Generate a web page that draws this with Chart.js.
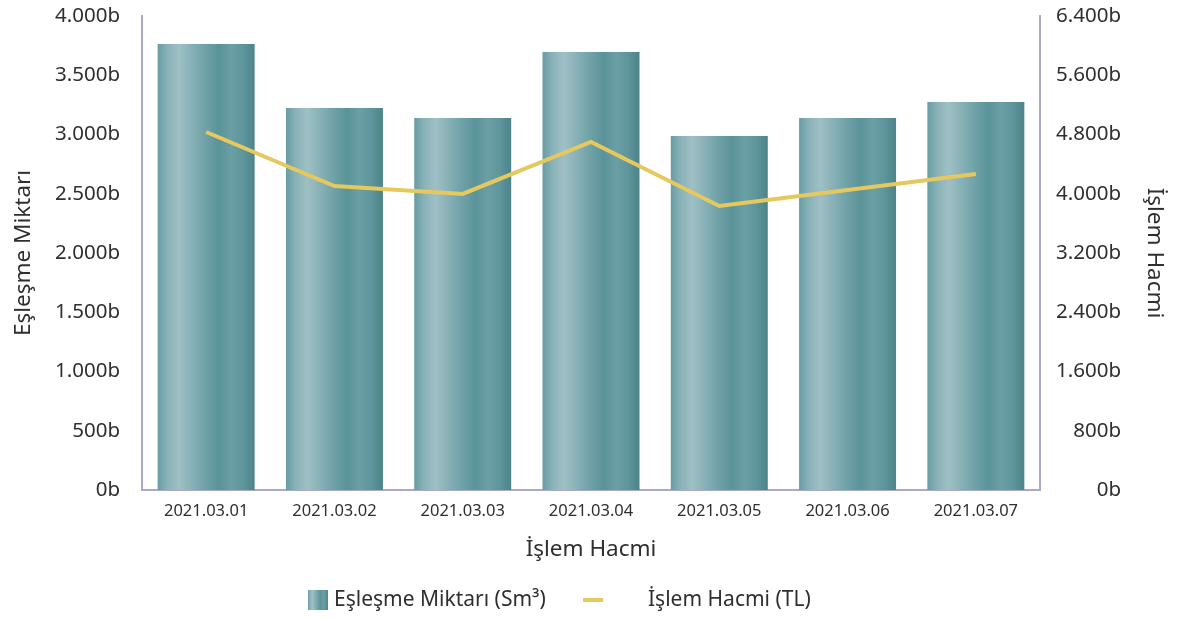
<!DOCTYPE html>
<html>
<head>
<meta charset="utf-8">
<script src="https://cdn.jsdelivr.net/npm/chart.js@4.4.1/dist/chart.umd.min.js"></script>
<style>
  html,body{margin:0;padding:0;background:#fff;}
  #wrap{width:1177px;height:618px;}
</style>
</head>
<body>
<div id="wrap"><canvas id="chartEslesme"></canvas></div>
<script>
var etiquetas = ['2021.03.01','2021.03.02','2021.03.03','2021.03.04','2021.03.05','2021.03.06','2021.03.07'];
var eslesmeMiktari = [3764, 3224, 3139, 3696, 2987, 3139, 3274];
var islemHacmi = [4834, 4105, 3997, 4699, 3835, 4050, 4267];
var ticksIzq = {min: 0, max: 4000, step: 500};
var ticksDer = {min: 0, max: 6400, step: 800};

var fuente = '"Noto Sans", "Open Sans", sans-serif';
var colorTexto = '#2f2f2f';
var colorEje = '#a9a9c8';
var anchoBarra = 0.756;

function formato(v){
	return String(v).replace(/\B(?=(\d{3})+(?!\d))/g, '.') + 'b';
}
function gradiente(ctx, x0, x1){
	var g = ctx.createLinearGradient(x0, 0, x1, 0);
	g.addColorStop(0.00, '#689ca3');
	g.addColorStop(0.10, '#88b2b8');
	g.addColorStop(0.22, '#9fc0c5');
	g.addColorStop(0.45, '#76a6ac');
	g.addColorStop(0.63, '#5a9399');
	g.addColorStop(0.76, '#6a9fa5');
	g.addColorStop(0.88, '#5f959c');
	g.addColorStop(1.00, '#4c8489');
	return g;
}
function colorBarra(c){
	var chart = c.chart;
	var area = chart.chartArea;
	if (c.type !== 'data' || !area) return '#6a9ea5';
	var x = chart.scales.x.getPixelForValue(c.dataIndex);
	var w = (area.right - area.left) / etiquetas.length * anchoBarra;
	return gradiente(chart.ctx, x - w / 2, x + w / 2);
}
function sinPadding(s){
	s.paddingTop = 0;
	s.paddingBottom = 0;
}

// leyenda dibujada a mano para respetar las posiciones del original
var leyenda = {
	id: 'leyenda',
	afterDraw: function(chart){
		var ctx = chart.ctx;
		var y = 600;
		ctx.save();
		ctx.fillStyle = gradiente(ctx, 308, 328);
		ctx.fillRect(308, 590, 20, 20);
		ctx.strokeStyle = '#e6c95e';
		ctx.lineWidth = 4;
		ctx.beginPath();
		ctx.moveTo(583, y);
		ctx.lineTo(603, y);
		ctx.stroke();
		ctx.font = '21px ' + fuente;
		ctx.fillStyle = colorTexto;
		ctx.textBaseline = 'middle';
		ctx.fillText(chart.data.datasets[1].label, 334, y);
		ctx.fillText(chart.data.datasets[0].label, 648, y);
		ctx.restore();
	}
};

new Chart(document.getElementById('chartEslesme'), {
	type: 'bar',
	data: {
		labels: etiquetas,
		datasets: [
			{
				type: 'line',
				label: 'İşlem Hacmi (TL)',
				data: islemHacmi,
				yAxisID: 'y1',
				borderColor: '#e6c95e',
				borderWidth: 4,
				pointRadius: 0,
				tension: 0,
				order: 0
			},
			{
				label: 'Eşleşme Miktarı (Sm³)',
				data: eslesmeMiktari,
				yAxisID: 'y',
				backgroundColor: colorBarra,
				barPercentage: anchoBarra,
				categoryPercentage: 1,
				order: 1
			}
		]
	},
	options: {
		responsive: true,
		maintainAspectRatio: false,
		animation: false,
		layout: {padding: {top: 16, bottom: 43, left: 0, right: 0}},
		plugins: {
			legend: {display: false},
			tooltip: {enabled: false}
		},
		scales: {
			x: {
				grid: {display: false, drawTicks: false},
				border: {display: true, color: colorEje, width: 2},
				ticks: {color: colorTexto, font: {family: fuente, size: 16.5}, padding: 11, maxRotation: 0},
				title: {display: true, text: 'İşlem Hacmi', color: colorTexto, font: {family: fuente, size: 22.5}, padding: {top: 0, bottom: 12}},
				afterFit: function(s){ s.height = 85; s.paddingLeft = 0; s.paddingRight = 0; }
			},
			y: {
				position: 'left',
				min: ticksIzq.min, max: ticksIzq.max,
				grid: {display: false, drawTicks: false},
				border: {display: true, color: colorEje, width: 2},
				ticks: {stepSize: ticksIzq.step, color: colorTexto, font: {family: fuente, size: 20.5}, padding: 22, callback: formato},
				title: {display: true, text: 'Eşleşme Miktarı', color: colorTexto, font: {family: fuente, size: 22.5}, padding: {top: 10, bottom: 0}},
				afterFit: function(s){ s.width = 142; sinPadding(s); }
			},
			y1: {
				position: 'right',
				weight: 1,
				min: ticksDer.min, max: ticksDer.max,
				grid: {display: false, drawTicks: false},
				border: {display: true, color: colorEje, width: 2},
				ticks: {stepSize: ticksDer.step, color: colorTexto, font: {family: fuente, size: 20.5}, padding: 10, crossAlign: 'far', callback: formato},
				afterFit: function(s){ s.width = 81; sinPadding(s); }
			},
			y1titulo: {
				position: 'right',
				weight: 2,
				min: ticksDer.min, max: ticksDer.max,
				grid: {display: false, drawTicks: false},
				border: {display: false},
				ticks: {display: false},
				title: {display: true, text: 'İşlem Hacmi', color: colorTexto, font: {family: fuente, size: 22.5}, padding: {top: 9, bottom: 0}},
				afterFit: function(s){ s.width = 56; sinPadding(s); }
			}
		}
	},
	plugins: [leyenda]
});
</script>
</body>
</html>
